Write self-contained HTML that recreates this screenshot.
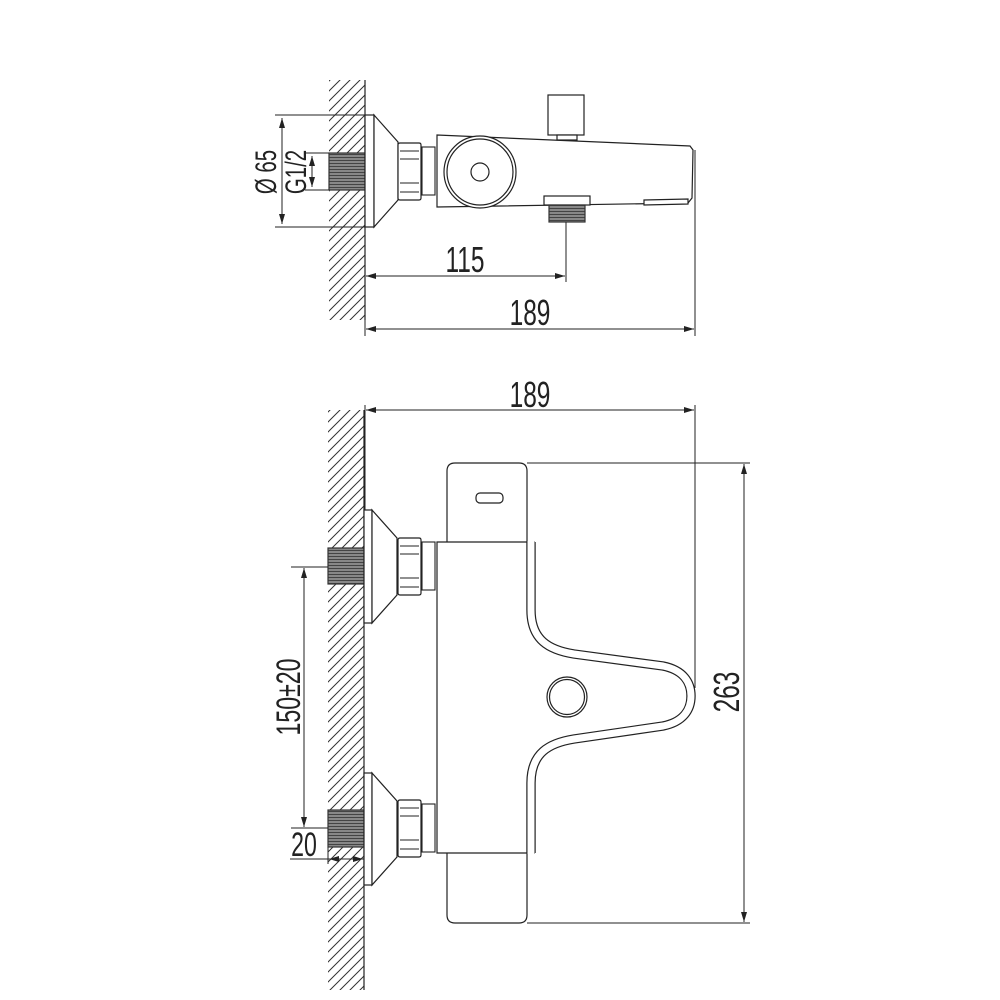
<!DOCTYPE html>
<html><head><style>
html,body{margin:0;padding:0;background:#fff;}
svg{display:block;}
text{font-family:"Liberation Sans",sans-serif;fill:#222;}
</style></head><body>
<svg width="1000" height="1000" viewBox="0 0 1000 1000" xmlns="http://www.w3.org/2000/svg">
<defs>
<pattern id="h" patternUnits="userSpaceOnUse" width="10" height="10">
<path d="M-2,12 L12,-2 M-12,12 L2,-2 M8,12 L22,-2" stroke="#333" stroke-width="1"/>
</pattern>
<pattern id="th" patternUnits="userSpaceOnUse" width="3" height="3">
<rect width="3" height="3" fill="#888"/><path d="M0,1.5 H3" stroke="#444" stroke-width="1"/>
</pattern>
<marker id="a" viewBox="0 0 10 10" refX="10" refY="5" markerWidth="10" markerHeight="10" orient="auto-start-reverse" markerUnits="userSpaceOnUse">
<path d="M0,2 L10,5 L0,8 z" fill="#222"/>
</marker>
<g id="nut">
<path d="M0,2 Q0,0 2,0 H21 Q23,0 23,2 V55 Q23,57 21,57 H2 Q0,57 0,55 Z" fill="#fff" stroke="#222" stroke-width="1.2"/>
<path d="M2,8 H21 M2,16 H21 M2,40 H21 M2,49 H21" stroke="#222" stroke-width="1"/>
<rect x="24" y="4" width="13" height="48" fill="#fff" stroke="#222" stroke-width="1.1"/>
</g>
</defs>
<g stroke="#222" stroke-width="1.2" fill="none">
<!-- TOP VIEW -->
<rect x="329" y="80" width="36" height="240" fill="url(#h)" stroke="none"/>
<line x1="365" y1="80" x2="365" y2="320"/>
<rect x="329" y="153" width="36" height="37" fill="url(#th)" stroke="#333"/>
<rect x="365" y="115" width="9" height="112" fill="#fff"/>
<path d="M374,115 L398,142 L398,200 L374,227 Z" fill="#fff"/>
<use href="#nut" x="398" y="143"/>
<path d="M437,135 L690,146 L693,150 L692,198 L688,203 L437,207 Z" fill="#fff"/>
<circle cx="480" cy="172" r="36" fill="#fff"/>
<circle cx="480" cy="172" r="33"/>
<circle cx="480" cy="172" r="9"/>
<rect x="548" y="95" width="36" height="40" fill="#fff"/>
<rect x="557" y="135" width="20" height="5" fill="#fff"/>
<rect x="544" y="196" width="46" height="9" fill="#fff"/>
<rect x="549" y="205" width="36" height="17" fill="url(#th)" stroke="#333"/>
<path d="M644,200 L688,199 L688,204 L644,205 Z" fill="#fff"/>
<!-- dims top -->
<path d="M275,115 H365 M275,227 H365 M305,153 H329 M305,190 H329" stroke-width="1"/>
<line x1="282" y1="118" x2="282" y2="224" marker-start="url(#a)" marker-end="url(#a)" stroke-width="1"/>
<line x1="312" y1="156" x2="312" y2="187" marker-start="url(#a)" marker-end="url(#a)" stroke-width="1"/>
<line x1="566" y1="222" x2="566" y2="282" stroke-width="1"/>
<line x1="695" y1="150" x2="695" y2="336" stroke-width="1"/>
<line x1="365" y1="320" x2="365" y2="336" stroke-width="1"/>
<line x1="366" y1="276" x2="565" y2="276" marker-start="url(#a)" marker-end="url(#a)" stroke-width="1"/>
<line x1="366" y1="329" x2="694" y2="329" marker-start="url(#a)" marker-end="url(#a)" stroke-width="1"/>

<!-- BOTTOM VIEW -->
<rect x="328" y="410" width="36" height="580" fill="url(#h)" stroke="none"/>
<line x1="364" y1="410" x2="364" y2="990"/>
<rect x="328" y="548" width="36" height="36" fill="url(#th)" stroke="#333"/>
<rect x="328" y="810" width="36" height="37" fill="url(#th)" stroke="#333"/>
<rect x="364" y="510" width="8" height="113" fill="#fff"/>
<path d="M372,510 L397,538 L397,595 L372,623 Z" fill="#fff"/>
<rect x="364" y="773" width="8" height="112" fill="#fff"/>
<path d="M372,773 L397,801 L397,857 L372,885 Z" fill="#fff"/>
<use href="#nut" x="398" y="538"/>
<use href="#nut" x="398" y="800"/>
<path d="M447,542 V471 Q447,463 455,463 H519 Q527,463 527,471 V542" fill="#fff"/>
<rect x="476" y="493" width="27" height="10" rx="4"/>
<path d="M447,853 V915 Q447,923 455,923 H519 Q527,923 527,915 V853" fill="#fff"/>
<path d="M535,542 H437 V853 H535" fill="#fff"/>
<path d="M531,542 V610 C531,640 549,650 574,654 L663,666 C683,670 691,682 691,696 C691,710 683,722 663,726 L574,739 C549,743 531,753 531,783 V853" stroke="#222" stroke-width="9.4"/>
<path d="M531,541 V610 C531,640 549,650 574,654 L663,666 C683,670 691,682 691,696 C691,710 683,722 663,726 L574,739 C549,743 531,753 531,783 V854" stroke="#fff" stroke-width="7"/>
<path d="M527,463 H750 M527,923 H750" stroke-width="1"/>
<circle cx="567" cy="697" r="20" fill="#fff"/>
<circle cx="567" cy="697" r="17.5"/>
<!-- dims bottom -->
<line x1="365" y1="405" x2="365" y2="510" stroke-width="1"/>
<line x1="695" y1="405" x2="695" y2="688" stroke-width="1"/>
<line x1="366" y1="410" x2="694" y2="410" marker-start="url(#a)" marker-end="url(#a)" stroke-width="1"/>
<line x1="744" y1="464" x2="744" y2="922" marker-start="url(#a)" marker-end="url(#a)" stroke-width="1"/>
<path d="M291,567 H328 M291,828 H328" stroke-width="1"/>
<line x1="304" y1="568" x2="304" y2="827" marker-start="url(#a)" marker-end="url(#a)" stroke-width="1"/>
<line x1="290" y1="859" x2="364" y2="859" stroke-width="1"/>
<line x1="328" y1="847" x2="328" y2="864" stroke-width="1"/>
<line x1="342" y1="859" x2="329" y2="859" marker-end="url(#a)" stroke-width="1"/>
<line x1="350" y1="859" x2="363" y2="859" marker-end="url(#a)" stroke-width="1"/>
</g>
<g font-size="36">
<text transform="translate(465,272) scale(0.68,1)" text-anchor="middle">115</text>
<text transform="translate(530,325) scale(0.68,1)" text-anchor="middle">189</text>
<text transform="translate(530,407) scale(0.68,1)" text-anchor="middle">189</text>
<text transform="translate(739,692) rotate(-90) scale(0.68,1)" text-anchor="middle">263</text>
</g>
<g font-size="30">
<text transform="translate(276,172) rotate(-90) scale(0.68,1)" text-anchor="middle">Ø 65</text>
<text transform="translate(306,172) rotate(-90) scale(0.68,1)" text-anchor="middle">G1/2</text>
</g>
<g font-size="34">
<text transform="translate(300,697) rotate(-90) scale(0.68,1)" text-anchor="middle">150±20</text>
<text transform="translate(304,856) scale(0.68,1)" text-anchor="middle">20</text>
</g>
</svg>
</body></html>
